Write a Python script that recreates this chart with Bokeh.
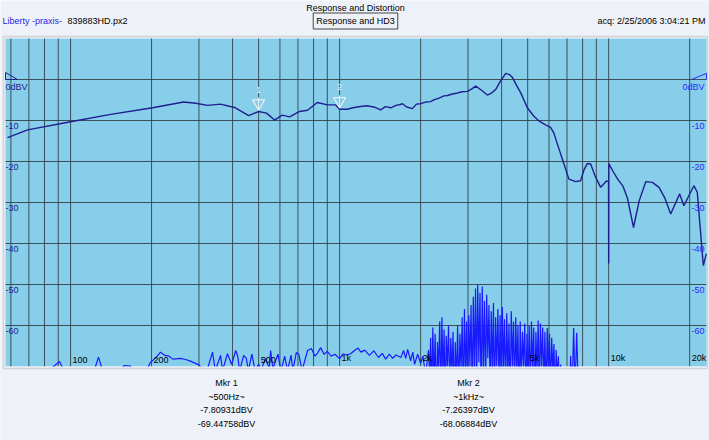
import math
from bokeh.plotting import figure
from bokeh.models import Range1d, Label, BoxAnnotation
from bokeh.embed import file_html
from bokeh.resources import INLINE

# ---------------- data ----------------
resp_freq = [58.3, 69.2, 100, 141, 202, 263, 292, 323, 361, 410, 459, 500, 535, 573, 612, 652,
             710, 760, 826, 900, 966, 1000, 1069, 1120, 1197, 1260, 1342, 1420, 1480, 1549,
             1620, 1680, 1711, 1775, 1864, 1930, 2000, 2090, 2179, 2250, 2330, 2443, 2520,
             2600, 2741, 2850, 2986, 3100, 3206, 3350, 3542, 3650, 3805, 3950, 4142, 4280,
             4398, 4550, 4708, 4985, 5263, 5508, 5800, 6085, 6250, 6444, 6820, 7117, 7536,
             7862, 8100, 8328, 8570, 8900, 9338, 9830, 9990, 10000, 10010, 10400, 10800,
             11300, 11760, 12370, 12980, 13750, 14540, 15390, 16200, 17000, 18360, 19040,
             19880, 20740, 21350, 22480, 23070]
resp_db = [-14.2, -12.3, -10.3, -8.5, -6.9, -5.5, -5.8, -6.3, -6.0, -6.9, -8.8, -7.81, -8.2,
           -9.9, -8.7, -9.1, -7.8, -7.5, -5.6, -6.2, -6.2, -7.26, -7.25, -6.9, -6.6, -6.4,
           -6.7, -7.4, -6.6, -6.9, -6.3, -6.1, -5.9, -6.7, -7.1, -6.0, -5.9, -5.5, -5.4,
           -4.9, -4.6, -4.0, -3.9, -3.6, -3.3, -3.0, -2.9, -2.3, -1.6, -2.5, -3.8, -3.4,
           -2.4, -0.5, 1.5, 1.2, 0.4, -1.5, -3.2, -6.9, -8.9, -10.1, -11.0, -11.7, -13.0,
           -15.7, -20.6, -24.3, -24.9, -24.7, -22.0, -20.5, -20.6, -23.5, -26.3, -24.7,
           -25.0, -44.9, -20.5, -22.5, -24.3, -26.0, -29.1, -36.1, -29.6, -24.9, -25.1,
           -26.3, -29.0, -32.8, -27.9, -30.8, -28.3, -25.9, -27.5, -45.4, -42.5]

hd3_freq = [57, 91, 96, 121, 127, 133, 152, 158, 167, 173, 193, 198, 208, 216, 224, 231, 240,
            256, 268, 279, 300, 318, 337, 345, 361, 367, 383, 397, 411, 418, 425, 440, 450,
            458, 472, 485, 500, 510, 530, 548, 554, 565, 590, 605, 625, 640, 660, 670, 690,
            705, 725, 760, 785, 810, 830, 850, 875, 900, 930, 960, 1000, 1030, 1060, 1100,
            1135, 1170, 1200, 1240, 1290, 1340, 1396, 1440, 1483, 1530, 1574, 1620, 1690,
            1729, 1760, 1790, 1836, 1870, 1900, 1950, 2000, 2040, 2087,
            2140, 2160, 2180, 2200, 2220, 2242, 2265, 2288, 2310, 2332, 2355, 2378, 2400,
            2422, 2445, 2468, 2490, 2515, 2540, 2565, 2590, 2615, 2640, 2665, 2690, 2718,
            2745, 2772, 2800, 2828, 2855, 2882, 2910, 2938, 2965, 2992, 3020, 3050, 3080,
            3110, 3140, 3170, 3200, 3230, 3260, 3292, 3325, 3358, 3390, 3422, 3455, 3488,
            3520, 3555, 3590, 3625, 3660, 3695, 3730, 3765, 3800, 3838, 3875, 3912, 3950,
            3988, 4025, 4062, 4100, 4140, 4180, 4220, 4260, 4302, 4345, 4388, 4430, 4472,
            4515, 4558, 4600, 4645, 4690, 4735, 4780, 4828, 4875, 4922, 4970, 5018, 5065,
            5115, 5165, 5215, 5265, 5315, 5365, 5418, 5470, 5522, 5575, 5630, 5685, 5740,
            5795, 5852, 5910, 5968, 6025, 6082, 6140, 6200, 6260, 6320, 6380, 6440, 6500,
            6565, 6630, 6800, 7150, 7223, 7300, 7411, 7500, 7604, 7750, 23000]
hd3_db = [-80, -68.8, -72, -72, -67.7, -72, -71, -69.8, -69.9, -72, -70.5, -69, -67.8, -66.5,
          -67.3, -67.4, -68.2, -68.0, -68.3, -68.7, -69.6, -72, -66.5, -71, -67.3, -71, -66.9,
          -69.5, -66.1, -67.5, -71, -67.3, -68.0, -71, -67.0, -71, -69.45, -71, -68, -70.5,
          -66.1, -70.5, -67.0, -71, -67.5, -71, -67.2, -71, -66.6, -67.0, -71, -66.1, -65.6,
          -67.5, -66.6, -65.4, -67.0, -66.3, -67.5, -67.0, -68.07, -66.9, -67.2, -66.9,
          -66.1, -65.5, -66.5, -66.0, -67.3, -66.2, -67.8, -66.8, -68.2, -67.0, -68.0,
          -67.2, -67.8, -66.1, -68.0, -65.8, -68.6, -66.5, -69.5, -67.0, -69.2, -67.5, -72,
          -66.0, -72, -63.0, -78, -60.5, -74, -62.0, -80, -64.0, -71, -59.0, -77, -58.0,
          -73, -61.0, -79, -62.5, -70, -60.0, -76, -63.0, -72, -61.5, -80, -64.0, -74,
          -60.0, -77, -62.0, -71, -58.0, -79, -56.0, -73, -59.0, -76, -57.5, -70, -55.0,
          -78, -53.0, -72, -51.0, -75, -50.0, -69, -52.0, -79, -50.5, -71, -54.0, -76,
          -52.5, -68, -55.0, -77, -56.5, -72, -54.5, -80, -58.0, -70, -56.0, -75, -57.5,
          -78, -55.5, -71, -58.5, -76, -57.0, -73, -59.5, -79, -56.5, -70, -59.0, -77,
          -58.0, -72, -60.0, -80, -59.0, -74, -61.5, -70, -59.5, -78, -62.0, -73, -60.0,
          -76, -59.0, -71, -60.5, -79, -61.5, -72, -58.8, -77, -59.5, -70, -60.5, -75,
          -61.5, -78, -60.6, -72, -62.0, -76, -63.0, -71, -64.5, -78, -66.0, -73, -67.5,
          -75, -69.5, -80, -80, -67.4, -78, -60.6, -76, -61.8, -80, -80]

grid_freqs = [60, 70, 80, 90, 100, 200, 300, 400, 500, 600, 700, 800, 900, 1000, 2000, 3000,
              4000, 5000, 6000, 7000, 8000, 9000, 10000, 20000]
db_ticks = [0, -10, -20, -30, -40, -50, -60]
db_left_labels = ["0dBV", "-10", "-20", "-30", "-40", "-50", "-60"]
db_right_labels = ["0dBV", "-10", "-20", "-30", "-40", "-50", "-60"]
ref_level = 0
freq_label_vals = [100, 200, 500, 1000, 2000, 5000, 10000, 20000]
freq_labels = ["100", "200", "500", "1k", "2k", "5k", "10k", "20k"]

marker_freq = [500, 1000]
marker_resp = [-7.80931, -7.26397]
marker_num = ["1", "2"]
marker_title = ["Mkr 1", "Mkr 2"]
marker_ftext = ["~500Hz~", "~1kHz~"]
marker_rtext = ["-7.80931dBV", "-7.26397dBV"]
marker_htext = ["-69.44758dBV", "-68.06884dBV"]

# ---------------- layout ----------------
W, H = 709, 440
FL, FT, FW, FH = 5, 38, 701, 328          # plot box in pixels
X0, X1, Y0, Y1 = 57.3, 23100.0, -70.0, 10.0
FONT = "Liberation Sans"
FS = "9px"
NAVY = "#1f1f8f"
BRIGHT = "#1a1aff"
RIGHTLBL = "#2b2bff"
PAGE = "#eef2f8"
SKY = "#87ceeb"


def fx(px):
    lo, hi = math.log10(X0), math.log10(X1)
    return 10 ** (lo + (px - FL) / FW * (hi - lo))


def fy(py):
    return Y1 - (py - FT) / FH * (Y1 - Y0)


p = figure(width=W, height=H, x_axis_type="log", title=None,
           x_range=Range1d(fx(0), fx(W)), y_range=Range1d(fy(H), fy(0)),
           x_axis_location=None, y_axis_location=None,
           output_backend="svg", toolbar_location=None,
           min_border_left=0, min_border_right=0, min_border_top=0, min_border_bottom=0)
p.background_fill_color = PAGE
p.border_fill_color = PAGE
p.outline_line_color = None
p.grid.visible = False

# plot area
p.add_layout(BoxAnnotation(left=X0, right=X1, bottom=Y0, top=Y1, fill_color=SKY,
                           fill_alpha=1, line_color=None, level="underlay"))

# grid lines
GRID = "#34434a"
p.segment(x0=grid_freqs, y0=[Y0] * len(grid_freqs), x1=grid_freqs, y1=[Y1] * len(grid_freqs),
          line_color=GRID, line_width=1, line_alpha=0.9)
p.segment(x0=[X0] * len(db_ticks), y0=db_ticks, x1=[X1] * len(db_ticks), y1=db_ticks,
          line_color=GRID, line_width=1, line_alpha=0.9)

# reference-level wedges at 0 dBV
p.line([X0, fx(17), X0, X0], [ref_level, ref_level, ref_level + 1.7, ref_level],
       line_color=NAVY, line_width=1)
p.line([fx(691), X1, X1], [ref_level, ref_level + 1.5, ref_level],
       line_color=RIGHTLBL, line_width=1)

# curves
p.line(hd3_freq, hd3_db, line_color=BRIGHT, line_width=1.2)
p.line(resp_freq, resp_db, line_color=NAVY, line_width=1.4)

# hide what falls below the plot box
p.quad(left=fx(0), right=fx(W), top=Y0, bottom=fy(H), fill_color=PAGE, line_color=None)

# frame border
p.add_layout(BoxAnnotation(left=fx(FL - 2), right=fx(FL + FW + 1), bottom=fy(FT + FH + 2),
                           top=fy(FT - 2), fill_alpha=0, line_color="#8a8a8a",
                           line_width=1.5))

# markers
MK = "#e8eef6"
for f, r, n in zip(marker_freq, marker_resp, marker_num):
    p.scatter([f], [r + 2.0], marker="inverted_triangle", size=12,
              fill_alpha=0, line_color=MK, line_width=1.2)
    p.segment([f], [r + 0.5], [f], [r + 3.4], line_color=MK, line_width=1.2)
    p.add_layout(Label(x=f, y=r + 4.6, text=n, text_align="center", text_baseline="bottom",
                       text_font=FONT, text_font_size=FS, text_color=MK))

# dB labels inside plot
for v, tl, tr in zip(db_ticks, db_left_labels, db_right_labels):
    p.add_layout(Label(x=X0, y=v, x_offset=0, y_offset=-2, text=tl, text_align="left",
                       text_baseline="top", text_font=FONT, text_font_size=FS,
                       text_color=NAVY))
    p.add_layout(Label(x=X1, y=v, x_offset=-2, y_offset=-2, text=tr, text_align="right",
                       text_baseline="top", text_font=FONT, text_font_size=FS,
                       text_color=RIGHTLBL))

# frequency labels
for v, t in zip(freq_label_vals, freq_labels):
    p.add_layout(Label(x=v, y=Y0, x_offset=2, y_offset=4, text=t, text_align="left",
                       text_baseline="bottom", text_font=FONT, text_font_size=FS,
                       text_color="black"))

# header
p.add_layout(Label(x=fx(355), y=fy(7), text="Response and Distortion", text_align="center",
                   text_baseline="middle", text_font=FONT, text_font_size=FS,
                   text_color="black"))
p.add_layout(Label(x=fx(2), y=fy(20), text="Liberty -praxis-", text_align="left",
                   text_baseline="middle", text_font=FONT, text_font_size=FS,
                   text_color="#1e1ee6"))
p.add_layout(Label(x=fx(67), y=fy(20), text="839883HD.px2", text_align="left",
                   text_baseline="middle", text_font=FONT, text_font_size=FS,
                   text_color="black"))
p.add_layout(Label(x=fx(355), y=fy(20.5), text="Response and HD3", text_align="center",
                   text_baseline="middle", text_font=FONT, text_font_size=FS,
                   text_color="black", border_line_color="#444444", border_line_width=1,
                   background_fill_color=PAGE, padding=3))
p.add_layout(Label(x=fx(705), y=fy(20), text="acq: 2/25/2006 3:04:21 PM", text_align="right",
                   text_baseline="middle", text_font=FONT, text_font_size=FS,
                   text_color="black"))

# marker readouts
for cx, a, b, c, d in zip([226, 468], marker_title, marker_ftext, marker_rtext, marker_htext):
    for py, t in zip([382, 396, 409, 423], [a, b, c, d]):
        p.add_layout(Label(x=fx(cx), y=fy(py), text=t, text_align="center",
                           text_baseline="middle", text_font=FONT, text_font_size=FS,
                           text_color="black"))

open("out.html", "w").write(file_html(p, INLINE))
